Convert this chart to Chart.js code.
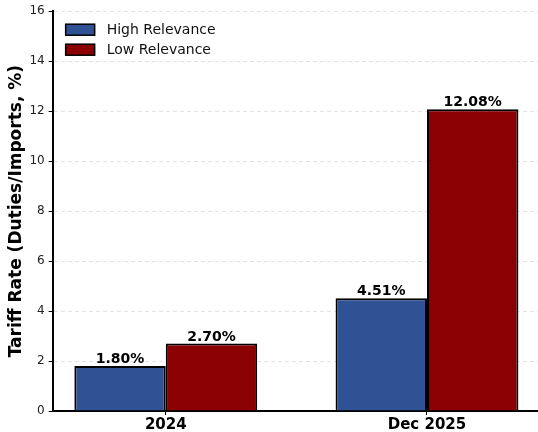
<!DOCTYPE html>
<html>
<head>
<meta charset="utf-8">
<script src="https://cdn.jsdelivr.net/npm/chart.js@4.4.1/dist/chart.umd.min.js"></script>
<style>
  html, body { margin: 0; padding: 0; background: #fff; }
  #wrap { width: 538px; height: 432px; }
</style>
</head>
<body>
<div id="wrap"><canvas id="chart"></canvas></div>
<script>
const categories = ['2024', 'Dec 2025'];
const highRelevance = [1.80, 4.51];
const lowRelevance = [2.70, 12.08];
const yTicks = [0, 2, 4, 6, 8, 10, 12, 14, 16];

const FONT = "'DejaVu Sans', sans-serif";

// legend drawn inside the plot, top left
const innerLegend = {
  id: 'innerLegend',
  afterDraw(chart) {
    const ctx = chart.ctx;
    const area = chart.chartArea;
    ctx.save();
    chart.data.datasets.forEach((ds, i) => {
      const x = area.left + 13;
      const y = area.top + 13 + i * 20;
      ctx.fillStyle = ds.backgroundColor;
      ctx.fillRect(x, y, 29, 11);
      ctx.strokeStyle = '#000';
      ctx.lineWidth = 1.5;
      ctx.strokeRect(x, y, 29, 11);
      ctx.fillStyle = '#111';
      ctx.font = '14px ' + FONT;
      ctx.textBaseline = 'middle';
      ctx.textAlign = 'left';
      ctx.fillText(ds.label, x + 41, y + 6);
    });
    ctx.restore();
  }
};

const valueLabels = {
  id: 'valueLabels',
  afterDatasetsDraw(chart) {
    const ctx = chart.ctx;
    ctx.save();
    ctx.font = 'bold 14px ' + FONT;
    ctx.fillStyle = '#000';
    ctx.textAlign = 'center';
    ctx.textBaseline = 'bottom';
    chart.data.datasets.forEach((ds, i) => {
      chart.getDatasetMeta(i).data.forEach((bar, j) => {
        ctx.fillText(ds.data[j].y.toFixed(2) + '%', bar.x, bar.y + 0.5);
      });
    });
    ctx.restore();
  }
};

new Chart(document.getElementById('chart'), {
  type: 'bar',
  data: {
    datasets: [
      {
        label: 'High Relevance',
        data: highRelevance.map((v, i) => ({ x: i, y: v })),
        backgroundColor: '#2F5294',
        borderColor: '#000',
        borderWidth: 2
      },
      {
        label: 'Low Relevance',
        data: lowRelevance.map((v, i) => ({ x: i, y: v })),
        backgroundColor: '#8B0000',
        borderColor: '#000',
        borderWidth: 2
      }
    ]
  },
  options: {
    responsive: true,
    maintainAspectRatio: false,
    animation: false,
    categoryPercentage: 0.7,
    barPercentage: 1.0,
    layout: { padding: { top: 10, right: 0, left: 6, bottom: -3 } },
    plugins: {
      legend: { display: false },
      tooltip: { enabled: false }
    },
    scales: {
      x: {
        type: 'linear',
        offset: false,
        min: -0.433,
        max: 1.425,
        afterBuildTicks: (scale) => { scale.ticks = categories.map((c, i) => ({ value: i })); },
        ticks: {
          callback: (v) => categories[v],
          font: { family: FONT, size: 15, weight: 'bold' },
          color: '#000',
          padding: 1,
          maxRotation: 0
        },
        grid: { offset: false, drawOnChartArea: false, drawTicks: true, tickLength: 4, tickColor: '#000' },
        border: { color: '#000', width: 2 }
      },
      y: {
        min: 0,
        max: 16,
        afterBuildTicks: (scale) => { scale.ticks = yTicks.map(v => ({ value: v })); },
        ticks: {
          font: { family: FONT, size: 12 },
          color: '#222',
          padding: 4
        },
        grid: { color: '#dcdcdc', lineWidth: 0.8, tickLength: 4, tickColor: '#000', tickWidth: 1 },
        border: { color: '#000', width: 2, dash: [4, 3] },
        title: {
          display: true,
          text: 'Tariff Rate (Duties/Imports, %)',
          font: { family: FONT, size: 17, weight: 'bold' },
          color: '#000',
          padding: { top: 0, bottom: -1 }
        }
      }
    }
  },
  plugins: [innerLegend, valueLabels]
});
</script>
</body>
</html>
